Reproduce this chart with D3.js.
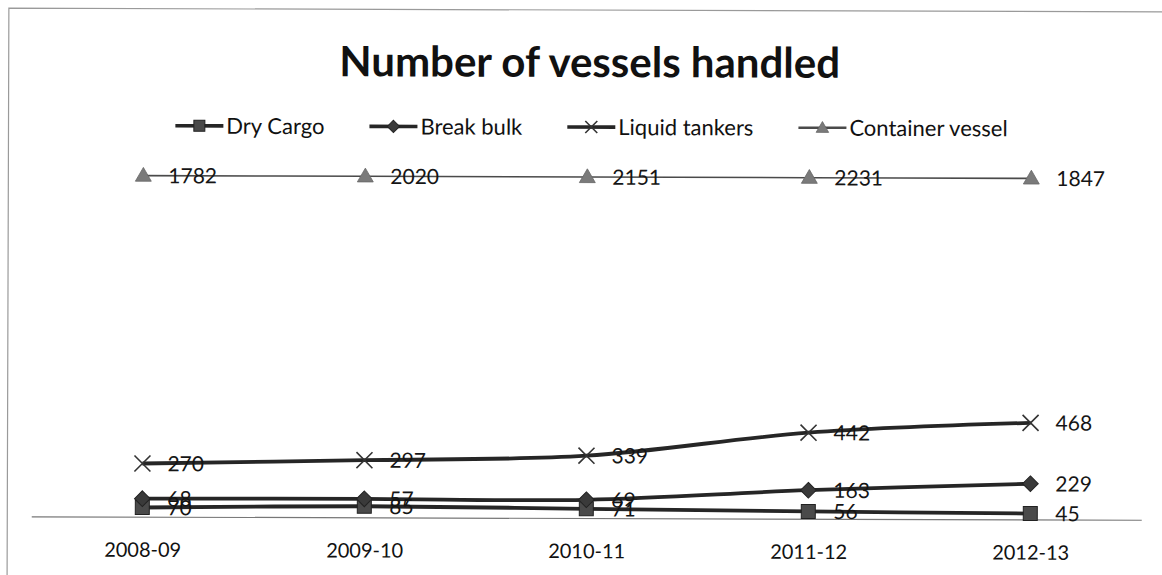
<!DOCTYPE html>
<html>
<head>
<meta charset="utf-8">
<script src="https://cdn.jsdelivr.net/npm/d3@7/dist/d3.min.js"></script>
<style>
  html, body { margin: 0; padding: 0; background: #fff; }
  svg { display: block; font-family: Lato, "Open Sans", sans-serif; }
</style>
</head>
<body>
<svg id="chart" width="1162" height="575"></svg>
<script>
// Vessels handled per year, by vessel type
const categories = ["2008-09", "2009-10", "2010-11", "2011-12", "2012-13"];
const dryCargo = [70, 85, 71, 56, 45];
const breakBulk = [68, 57, 69, 163, 229];
const liquidTankers = [270, 297, 339, 442, 468];
const containerVessel = [1782, 2020, 2151, 2231, 1847];
const seriesNames = ["Dry Cargo", "Break bulk", "Liquid tankers", "Container vessel"];

const W = 1162, H = 575;
const plot = { left: 32, right: 1142, top: 177, bottom: 518 };

const svg = d3.select("#chart");
const root = svg.append("g").attr("transform", `rotate(0.18 ${W / 2} ${H / 2})`);

// outer frame
root.append("path")
  .attr("d", `M8,${H + 5} V10 H${W + 5}`)
  .attr("fill", "none").attr("stroke", "#9a9a9a").attr("stroke-width", 1.2);

// title
root.append("text")
  .attr("x", 589).attr("y", 77)
  .attr("text-anchor", "middle")
  .attr("font-size", 42).attr("font-weight", 700).attr("fill", "#111")
  .text("Number of vessels handled");

// scales
const x = d3.scalePoint().domain(categories).range([plot.left, plot.right]).padding(0.5);
// primary axis: stacked lower series
const y = d3.scaleLinear().domain([0, 2620]).range([plot.bottom, plot.top]);
// secondary axis for container vessels; values above the axis maximum sit on the top edge
const y2 = d3.scaleLinear().domain([0, 1750]).range([plot.bottom, plot.top]).clamp(true);

const rows = categories.map((c, i) => ({
  cat: c, "Dry Cargo": dryCargo[i], "Break bulk": breakBulk[i], "Liquid tankers": liquidTankers[i]
}));
const stacked = d3.stack().keys(["Dry Cargo", "Break bulk", "Liquid tankers"])(rows);

// x axis
const xAxis = root.append("g")
  .attr("transform", `translate(0,${plot.bottom})`)
  .call(d3.axisBottom(x).tickSize(0).tickSizeOuter(0).tickPadding(26));
xAxis.select(".domain").attr("stroke", "#777").attr("stroke-width", 1.2);
xAxis.selectAll("text").attr("font-size", 20).attr("fill", "#111").attr("font-family", "Lato, sans-serif");

// marker drawers
const markers = {
  "Dry Cargo": (g, s = 14) => g.append("rect").attr("x", -s / 2).attr("y", -s / 2).attr("width", s).attr("height", s)
    .attr("fill", "#4a4a4a").attr("stroke", "#222").attr("stroke-width", 1),
  "Break bulk": (g, s = 14) => g.append("path").attr("d", d3.symbol(d3.symbolDiamond2, s * s * 0.8)())
    .attr("fill", "#3a3a3a").attr("stroke", "#222").attr("stroke-width", 1),
  "Liquid tankers": (g, s = 16) => g.append("path").attr("d", `M${-s / 2},${-s / 2}L${s / 2},${s / 2}M${-s / 2},${s / 2}L${s / 2},${-s / 2}`)
    .attr("fill", "none").attr("stroke", "#333").attr("stroke-width", 1.6),
  "Container vessel": (g, s = 14) => g.append("path").attr("d", d3.symbol(d3.symbolTriangle, s * s * 0.56)())
    .attr("transform", "translate(0,1)")
    .attr("fill", "#7a7a7a").attr("stroke", "#666").attr("stroke-width", 0.8)
};
const lineStyle = {
  "Dry Cargo": { stroke: "#262626", width: 3.8 },
  "Break bulk": { stroke: "#262626", width: 3.8 },
  "Liquid tankers": { stroke: "#262626", width: 3.8 },
  "Container vessel": { stroke: "#4a4a4a", width: 1.6 }
};

// plotted series with their point positions
const plotted = [
  ...stacked.map((s, k) => ({
    name: s.key,
    values: [dryCargo, breakBulk, liquidTankers][k],
    pts: s.map((d, i) => [x(categories[i]), y(d[1])])
  })),
  {
    name: "Container vessel",
    values: containerVessel,
    pts: containerVessel.map((v, i) => [x(categories[i]), y2(v)])
  }
];

const line = d3.line().curve(d3.curveCatmullRom.alpha(0.5));

plotted.slice().reverse().forEach(s => {
  root.append("path")
    .attr("d", line(s.pts))
    .attr("fill", "none")
    .attr("stroke", lineStyle[s.name].stroke)
    .attr("stroke-width", lineStyle[s.name].width)
    .attr("stroke-linejoin", "round");
});

plotted.forEach(s => {
  s.pts.forEach(p => {
    const g = root.append("g").attr("transform", `translate(${p[0]},${p[1]})`);
    markers[s.name](g);
  });
});

// data labels to the right of each point
plotted.forEach(s => {
  s.pts.forEach((p, i) => {
    root.append("text")
      .attr("x", p[0] + 25).attr("y", p[1]).attr("dy", "0.36em")
      .attr("font-size", 21).attr("fill", "#151515")
      .text(s.values[i]);
  });
});

// legend
const legend = root.append("g").attr("transform", "translate(0,127)");
const items = [];
seriesNames.forEach(name => {
  const g = legend.append("g");
  g.append("line").attr("x1", 0).attr("x2", 48).attr("y1", 0).attr("y2", 0)
    .attr("stroke", lineStyle[name].stroke)
    .attr("stroke-width", name === "Container vessel" ? 2.5 : 3.6);
  const mg = g.append("g").attr("transform", "translate(24,0)");
  markers[name](mg, name === "Liquid tankers" ? 12 : 11);
  const t = g.append("text").attr("x", 51).attr("dy", "0.36em")
    .attr("font-size", 22).attr("fill", "#111").text(name);
  items.push({ g, w: 51 + t.node().getComputedTextLength() });
});
const gap = 45;
const total = d3.sum(items, d => d.w) + gap * (items.length - 1);
let start = 591 - total / 2;
items.forEach(it => {
  it.g.attr("transform", `translate(${start},0)`);
  start += it.w + gap;
});
</script>
</body>
</html>
